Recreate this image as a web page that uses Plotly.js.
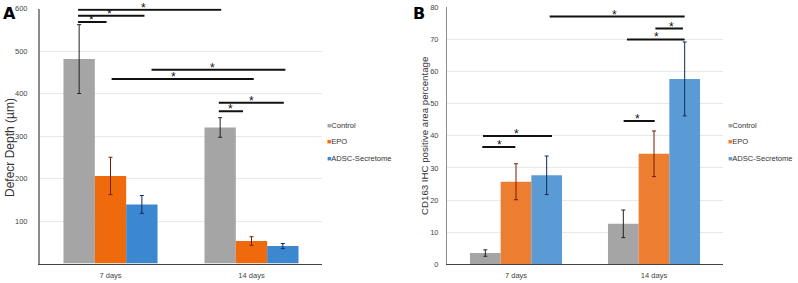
<!DOCTYPE html>
<html>
<head>
<meta charset="utf-8">
<script src="https://cdn.plot.ly/plotly-3.0.1.min.js"></script>
<style>
  html, body { margin: 0; padding: 0; background: #fff; }
  #chart { width: 798px; height: 283px; }
</style>
</head>
<body>
<div id="chart"></div>
<script>
// ---- data ----
const categories = ['7 days', '14 days'];
const groups = ['Control', 'EPO', 'ADSC-Secretome'];

// panel A: defect depth (µm)
const defectControl = [481, 320];
const defectControlErr = [81, 23];
const defectEpo = [206, 53];
const defectEpoErr = [44, 10];
const defectAdsc = [139, 41];
const defectAdscErr = [21, 6];

// panel B: CD163 IHC positive area (%)
const cd163Control = [3.5, 12.6];
const cd163ControlErr = [1, 4.3];
const cd163Epo = [25.7, 34.4];
const cd163EpoErr = [5.6, 7.1];
const cd163Adsc = [27.7, 57.7];
const cd163AdscErr = [6, 11.5];

// significance brackets: [from, to, level, star position]
const sigDefect = [
    [-0.23, 0.785, 597, 0.237],
    [-0.23, 0.241, 583, -0.009],
    [-0.23, -0.028, 568, -0.136],
    [0.291, 1.24, 456, 0.726],
    [0.008, 1.016, 434, 0.449],
    [0.768, 1.229, 378, 0.997],
    [0.768, 0.94, 358, 0.851]
];
const sigCd163 = [
    [0.244, 1.222, 77.1, 0.715],
    [1.01, 1.21, 73.4, 1.13],
    [0.804, 1.222, 70.0, 1.017],
    [0.78, 1.005, 44.6, 0.884],
    [-0.239, 0.261, 39.9, 0.002],
    [-0.244, -0.005, 36.5, -0.118]
];

const colorsA = ['#a5a5a5', '#ee6a0c', '#3b87d0'];
const colorsB = ['#a5a5a5', '#ed7d31', '#5b9bd5'];
const errColors = ['#222', '#7a1a00', '#0d2a5a'];

const makeBar = (name, y, err, color, errColor, xa, ya) => ({
    type: 'bar',
    name: name,
    x: categories,
    y: y,
    xaxis: xa,
    yaxis: ya,
    marker: { color: color },
    error_y: { type: 'data', array: err, visible: true, color: errColor, thickness: 1, width: 2 },
    showlegend: false,
    hoverinfo: 'y'
});

const traces = [
    makeBar(groups[0], defectControl, defectControlErr, colorsA[0], errColors[0], 'x', 'y'),
    makeBar(groups[1], defectEpo, defectEpoErr, colorsA[1], errColors[1], 'x', 'y'),
    makeBar(groups[2], defectAdsc, defectAdscErr, colorsA[2], errColors[2], 'x', 'y'),
    makeBar(groups[0], cd163Control, cd163ControlErr, colorsB[0], errColors[0], 'x2', 'y2'),
    makeBar(groups[1], cd163Epo, cd163EpoErr, colorsB[1], errColors[1], 'x2', 'y2'),
    makeBar(groups[2], cd163Adsc, cd163AdscErr, colorsB[2], errColors[2], 'x2', 'y2')
];

const shapes = [];
const annotations = [];

const addBrackets = (list, xref, yref) => {
    list.forEach(([x0, x1, level, star]) => {
        shapes.push({
            type: 'line', xref: xref, yref: yref,
            x0: x0, x1: x1, y0: level, y1: level,
            line: { color: '#111', width: 2 }
        });
        annotations.push({
            xref: xref, yref: yref, x: star, y: level,
            text: '*', showarrow: false, yanchor: 'bottom', yshift: -7,
            font: { size: 12, color: '#111', family: 'Liberation Sans, Arial' }
        });
    });
};
addBrackets(sigDefect, 'x', 'y');
addBrackets(sigCd163, 'x2', 'y2');

// legends as small coloured squares with text
const addLegend = (xPaper, colors) => {
    groups.forEach((g, i) => {
        annotations.push({
            xref: 'paper', yref: 'paper', x: xPaper, y: 1 - (125 + i * 16.7) / 283,
            xanchor: 'left', yanchor: 'middle', showarrow: false,
            text: `<span style="color:${colors[i]};font-size:7px">■</span>${g}`,
            font: { size: 7.6, color: '#333', family: 'Liberation Sans, Arial' }
        });
    });
};
addLegend(325 / 798, colorsA);
addLegend(726 / 798, colorsB);

// panel letters
annotations.push({
    xref: 'paper', yref: 'paper', x: 1 / 798, y: 1 - 2 / 283, xanchor: 'left', yanchor: 'top',
    text: '<b>A</b>', showarrow: false, font: { size: 16, color: '#000', family: 'DejaVu Sans, Arial' }
});
annotations.push({
    xref: 'paper', yref: 'paper', x: 411 / 798, y: 1 - 2 / 283, xanchor: 'left', yanchor: 'top',
    text: '<b>B</b>', showarrow: false, font: { size: 16, color: '#000', family: 'DejaVu Sans, Arial' }
});

// axis titles as rotated annotations
annotations.push({
    xref: 'paper', yref: 'paper', x: 10 / 798, y: 1 - 148 / 283, textangle: -90,
    xanchor: 'center', yanchor: 'middle',
    text: 'Defecr Depth (µm)', showarrow: false,
    font: { size: 12, color: '#333', family: 'Liberation Sans, Arial' }
});
annotations.push({
    xref: 'paper', yref: 'paper', x: 424 / 798, y: 1 - 136 / 283, textangle: -90,
    xanchor: 'center', yanchor: 'middle',
    text: 'CD163 IHC positive area percentage', showarrow: false,
    font: { size: 9.7, color: '#333', family: 'Liberation Sans, Arial' }
});

const tickFont = { size: 7.5, color: '#444', family: 'Liberation Sans, Arial' };

const layout = {
    width: 798,
    height: 283,
    margin: { l: 0, r: 0, t: 0, b: 0 },
    paper_bgcolor: '#fff',
    plot_bgcolor: '#fff',
    barmode: 'group',
    bargap: 0.333,
    bargroupgap: 0,
    showlegend: false,
    xaxis: {
        domain: [40 / 798, 322 / 798], anchor: 'y',
        showline: true, linecolor: '#444', linewidth: 1,
        tickfont: tickFont, ticks: '', ticklabelstandoff: 4
    },
    yaxis: {
        domain: [19.5 / 283, 274.5 / 283], anchor: 'x',
        range: [0, 600], tickvals: [100, 200, 300, 400, 500, 600],
        showline: true, linecolor: '#8c8c8c', linewidth: 2,
        gridcolor: '#e8e8e8', zeroline: false,
        tickfont: tickFont, ticks: '', ticklabelstandoff: 9
    },
    xaxis2: {
        domain: [447 / 798, 723 / 798], anchor: 'y2',
        showline: true, linecolor: '#444', linewidth: 1,
        tickfont: tickFont, ticks: '', ticklabelstandoff: 4
    },
    yaxis2: {
        domain: [18.7 / 283, 275.7 / 283], anchor: 'x2',
        range: [0, 80], dtick: 10,
        showline: true, linecolor: '#8c8c8c', linewidth: 1,
        gridcolor: '#e8e8e8', zeroline: false,
        tickfont: tickFont, ticks: '', ticklabelstandoff: 6
    },
    shapes: shapes,
    annotations: annotations
};

Plotly.newPlot('chart', traces, layout, { displayModeBar: false, staticPlot: true });
</script>
</body>
</html>
